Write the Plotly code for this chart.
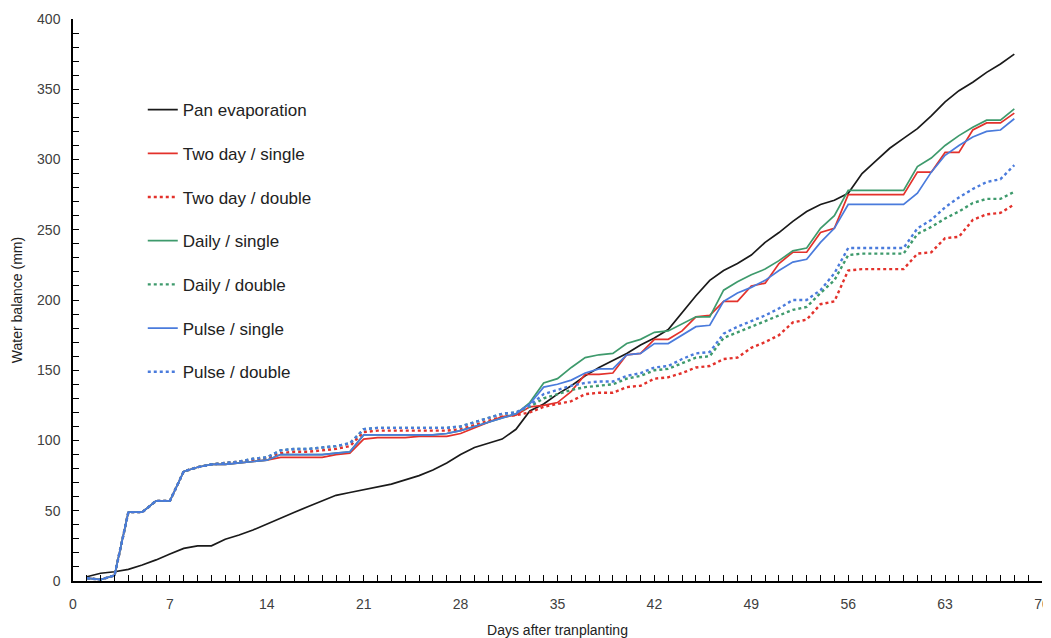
import plotly.graph_objects as go

days = list(range(1, 69))

early = [2, 1, 4, 49, 49, 57, 57, 78, 81, 83]  # days 1-10, shared by all treatments

pan_evaporation = [3, 5.5, 6.6, 8.3, 11.4, 15, 19.2, 23.2, 25, 25,
                   29.7, 32.7, 36.3, 40.6, 45, 49, 53, 57, 61, 63,
                   65, 67, 69, 72, 75, 79, 84, 90, 95, 98,
                   101, 108, 121, 126, 133, 139, 146, 152, 157, 162,
                   168, 173, 179, 191, 203, 214, 221, 226, 232, 241,
                   248, 256, 263, 268, 271, 276, 290, 299, 308, 315,
                   322, 331, 341, 349, 355, 362, 368, 375]

two_day_single = early + [83, 84, 85, 86, 88, 88, 88, 88, 90, 91,
                          101, 102, 102, 102, 103, 103, 103, 105, 109, 113,
                          117, 118, 124, 125, 127, 135, 147, 147, 148, 161,
                          162, 172, 172, 178, 188, 189, 199, 199, 210, 212,
                          226, 234, 234, 248, 251, 275, 275, 275, 275, 275,
                          291, 291, 305, 305, 321, 326, 326, 333]

two_day_double = early + [84, 85, 86, 87, 91, 92, 92, 93, 94, 96,
                          106, 107, 107, 107, 107, 107, 107, 108, 111, 114,
                          117, 118, 120, 124, 126, 128, 133, 134, 134, 138,
                          139, 144, 145, 148, 152, 153, 158, 159, 166, 170,
                          175, 184, 186, 197, 199, 221, 222, 222, 222, 222,
                          233, 234, 244, 245, 257, 261, 262, 268]

daily_single = early + [83, 84, 85, 86, 90, 90, 90, 90, 91, 92,
                        104, 104, 104, 104, 104, 104, 105, 107, 110, 113,
                        116, 119, 127, 141, 144, 152, 159, 161, 162, 169,
                        172, 177, 178, 183, 188, 188, 207, 213, 218, 222,
                        228, 235, 237, 251, 260, 278, 278, 278, 278, 278,
                        295, 301, 310, 317, 323, 328, 328, 336]

daily_double = early + [84, 85, 87, 88, 93, 94, 94, 95, 96, 98,
                        108, 109, 109, 109, 109, 109, 109, 110, 113, 116,
                        119, 120, 124, 130, 133, 136, 138, 139, 140, 144,
                        146, 150, 151, 155, 159, 160, 173, 177, 181, 185,
                        189, 193, 195, 205, 214, 232, 233, 233, 233, 233,
                        247, 252, 258, 263, 269, 272, 272, 277]

pulse_single = early + [83, 84, 85, 86, 90, 90, 90, 90, 91, 92,
                        104, 104, 104, 104, 104, 104, 105, 107, 110, 113,
                        116, 119, 126, 138, 140, 143, 148, 151, 151, 161,
                        162, 169, 169, 175, 181, 182, 199, 205, 209, 214,
                        221, 227, 229, 241, 251, 268, 268, 268, 268, 268,
                        276, 291, 303, 310, 316, 320, 321, 329]

pulse_double = early + [84, 85, 87, 88, 93, 94, 94, 95, 96, 98,
                        108, 109, 109, 109, 109, 109, 109, 110, 113, 116,
                        119, 120, 125, 133, 136, 139, 141, 142, 142, 146,
                        148, 152, 153, 158, 162, 163, 176, 181, 185, 189,
                        194, 200, 200, 207, 219, 237, 237, 237, 237, 237,
                        251, 257, 266, 273, 279, 284, 286, 296]

series = [
    ("Pan evaporation", pan_evaporation, "#1a1a1a", "solid", 1.7),
    ("Two day / single", two_day_single, "#e3312b", "solid", 1.7),
    ("Two day / double", two_day_double, "#e3312b", "dot", 2.4),
    ("Daily / single", daily_single, "#3e9a6c", "solid", 1.7),
    ("Daily / double", daily_double, "#3e9a6c", "dot", 2.4),
    ("Pulse / single", pulse_single, "#4a7bdc", "solid", 1.7),
    ("Pulse / double", pulse_double, "#4a7bdc", "dot", 2.4),
]

fig = go.Figure()
for i, (name, vals, color, dash, width) in enumerate(series):
    fig.add_trace(go.Scatter(
        x=days, y=vals, name=name, mode="lines",
        legendgroup=f"g{i}",
        line=dict(color=color, dash=dash, width=width),
    ))

font_family = "Liberation Sans, Arial, sans-serif"

# the page body has an 8px margin, so the figure is offset to compensate
fig.update_layout(
    width=1051, height=630,
    margin=dict(l=65, r=17, t=11, b=57, autoexpand=False),
    paper_bgcolor="white", plot_bgcolor="white",
    font=dict(family=font_family, color="#404040", size=14),
    showlegend=True,
    legend=dict(
        x=0.072, y=0.870, xanchor="left", yanchor="top",
        font=dict(size=17, color="#222222"),
        tracegroupgap=18.6,
        bgcolor="rgba(0,0,0,0)",
    ),
    xaxis=dict(
        range=[0, 70], tick0=0, dtick=7, automargin=False,
        showline=True, linecolor="black", linewidth=1.5,
        ticks="inside", ticklen=6, tickcolor="black",
        minor=dict(dtick=1, ticks="inside", ticklen=6, tickcolor="black"),
        showgrid=False, zeroline=False,
        tickfont=dict(size=14, color="#404040"),
        ticklabelstandoff=9, ticklabeloverflow="allow",
        title=dict(text="Days after tranplanting", font=dict(size=14, color="#222222"), standoff=15),
    ),
    yaxis=dict(
        range=[0, 400], tick0=0, dtick=50, automargin=False,
        showline=True, linecolor="black", linewidth=1.5,
        ticks="inside", ticklen=6, tickcolor="black",
        minor=dict(dtick=10, ticks="inside", ticklen=6, tickcolor="black"),
        showgrid=False, zeroline=False,
        tickfont=dict(size=14, color="#404040"),
        ticklabelstandoff=8,
        title=dict(text="Water balance (mm)", font=dict(size=14, color="#222222"), standoff=11),
    ),
)

fig.write_html("out.html")
